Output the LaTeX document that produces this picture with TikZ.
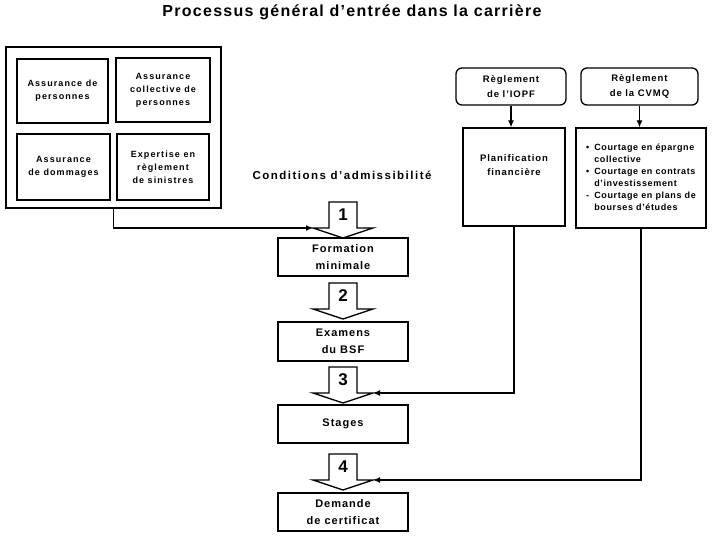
\documentclass[tikz,border=0pt]{standalone}
\usepackage{fontspec}
\setmainfont{Liberation Sans}
\usetikzlibrary{arrows.meta}
\newcommand{\barrow}[3]{%
  \begin{scope}[shift={(343,#2)}]
    \draw[blockarr] (-14,0) -- (14,0) -- (14,26) -- (30,26) -- (0,36) -- (-30,26) -- (-14,26) -- cycle;
    \coordinate (#1l) at (-30,26);
    \coordinate (#1r) at (30,26);
    \node[numtext] (#1n) at (0,13) {#3};
  \end{scope}}
\newcommand{\wfont}[3]{\bfseries\fontsize{#1}{#2}\selectfont\addfontfeatures{LetterSpace=#3}}
\begin{document}
\begin{tikzpicture}[x=1pt,y=-1pt,
  box/.style={draw, line width=1.3pt, align=center, inner sep=0pt,
    font=\wfont{9}{13}{12}},
  inbox/.style={box, line width=1.6pt},
  stepbox/.style={box, minimum width=130pt, minimum height=38pt,
    font=\wfont{11}{17}{9}},
  regbox/.style={box, rounded corners=6pt, minimum height=37pt, font=\wfont{9.5}{15}{10}},
  blockarr/.style={draw, line width=1.3pt, fill=white, line join=miter},
  numtext/.style={font=\bfseries\fontsize{17}{17}\selectfont, inner sep=0pt},
  conn/.style={line width=1.3pt, -{Latex[length=7pt,width=6pt]}}]
\useasboundingbox (0,0) rectangle (720,540);

\node[font=\wfont{16}{18}{8}] (title) at (352,12) {Processus général d'entrée dans la carrière};

% left group
\node[box, line width=1.2pt, minimum width=215pt, minimum height=161pt] (outer) at (113.5,127.5) {};
\node[inbox, minimum width=91pt, minimum height=64pt] (b1) at (62.5,91) {Assurance de\\personnes};
\node[inbox, minimum width=94pt, minimum height=64pt] (b2) at (163,90) {Assurance\\collective de\\personnes};
\node[inbox, minimum width=93pt, minimum height=66pt] (b3) at (63.5,167) {Assurance\\de dommages};
\node[inbox, minimum width=92pt, minimum height=66pt] (b4) at (163,167) {Expertise en\\règlement\\de sinistres};

\node[font=\wfont{11.5}{13}{13}] (cond) at (342,175) {Conditions d'admissibilité};

% steps
\barrow{a1}{202}{1}
\barrow{a2}{283}{2}
\barrow{a3}{367}{3}
\barrow{a4}{454}{4}
\node[stepbox] (s1) at (343,257) {Formation\\minimale};
\node[stepbox, minimum height=39pt] (s2) at (343,341.5) {Examens\\du BSF};
\node[stepbox] (s3) at (343,424) {Stages};
\node[stepbox] (s4) at (343,512) {Demande\\de certificat};

% right side
\node[regbox, minimum width=110pt] (iopf) at (511,86.5) {Règlement\\de l'IOPF};
\node[regbox, minimum width=117pt] (cvmq) at (639.5,86.5) {Règlement\\de la CVMQ};
\node[box, minimum width=102pt, minimum height=98pt] (plan) at (514,177) {};
\node[font=\wfont{9.5}{14}{10}, align=center] (plantext) at (514,165) {Planification\\financière};
\node[box, minimum width=130pt, minimum height=100pt,
  font=\wfont{9}{12}{7}] (list) at (641,178) {%
  \begin{tabular}{@{}l@{\hspace{5pt}}l@{}}
  • & Courtage en épargne\\
    & collective\\
  • & Courtage en contrats\\
    & d'investissement\\
  - & Courtage en plans de\\
    & bourses d'études
  \end{tabular}};

% connectors
\draw[conn] (outer.south) |- (a1l);
\draw[conn] (iopf.south) -- (iopf.south |- plan.north);
\draw[conn] (cvmq.south) -- (cvmq.south |- list.north);
\draw[conn] (plan.south) |- (a3r);
\draw[conn] (list.south) |- (a4r);
\end{tikzpicture}
\end{document}
